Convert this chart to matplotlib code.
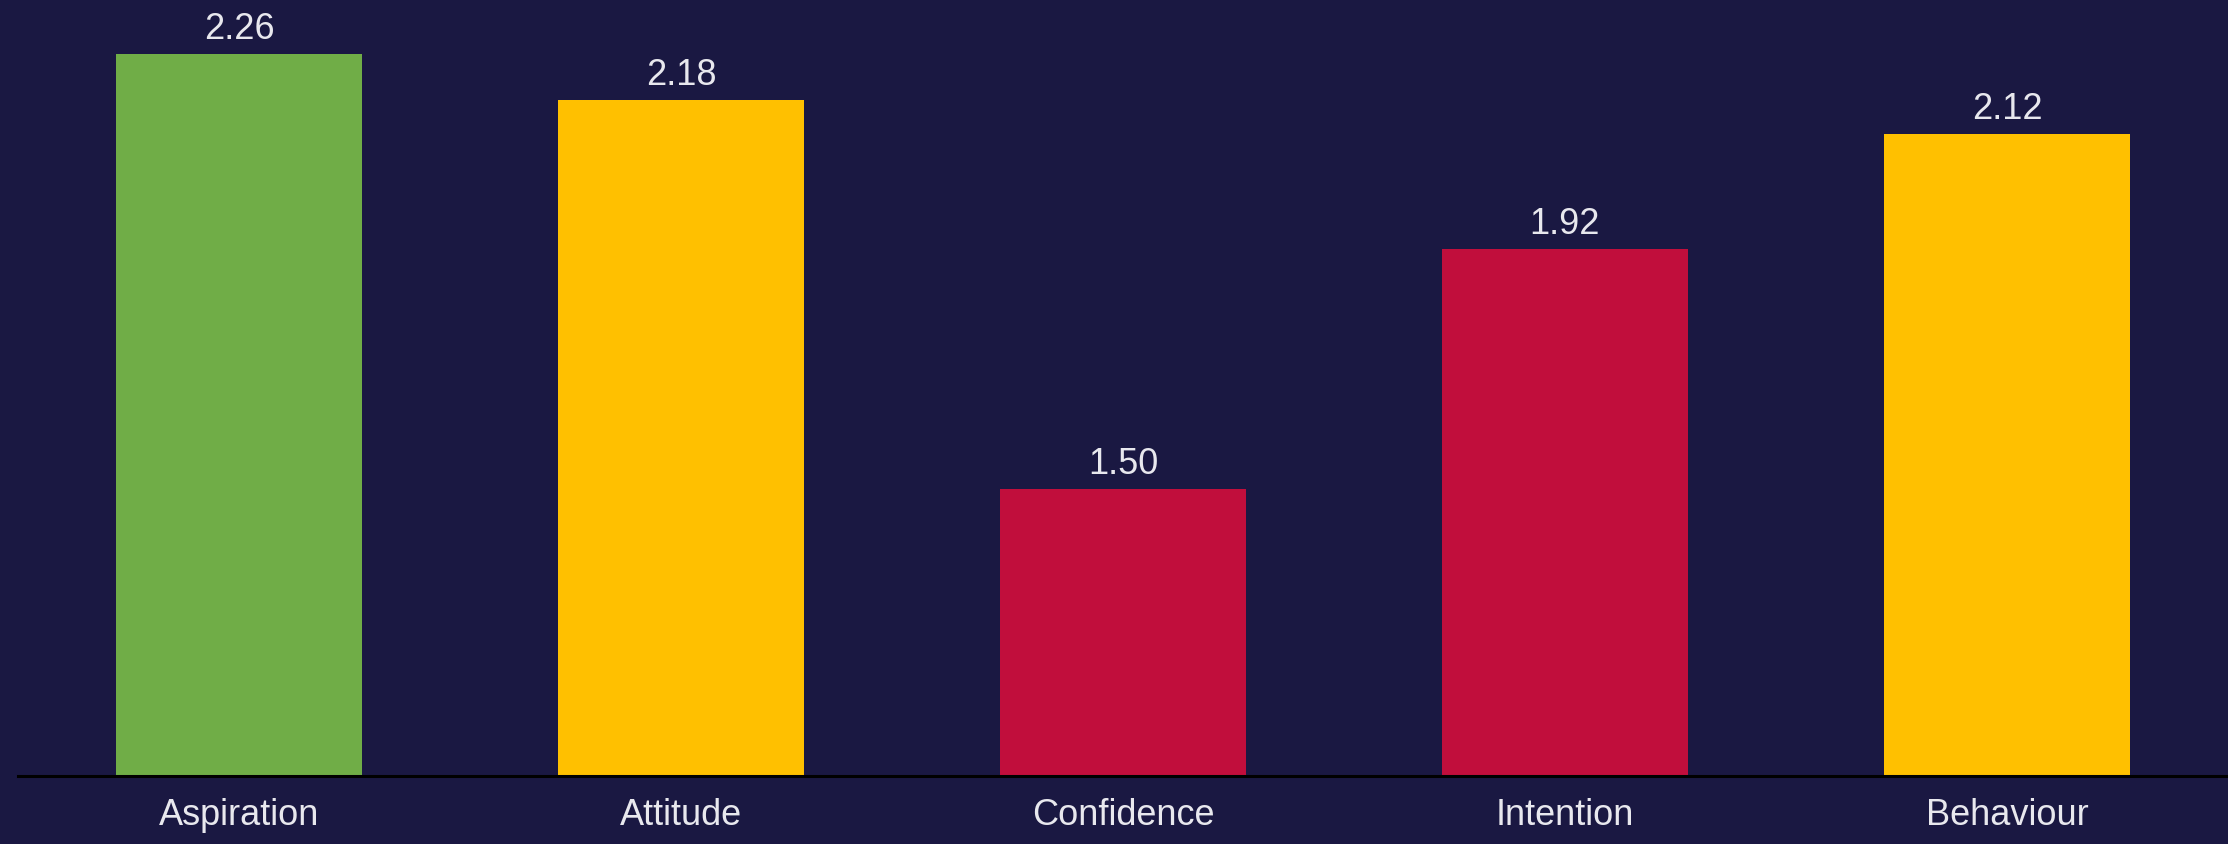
import matplotlib.pyplot as plt
import numpy as np

categories = ["Aspiration", "Attitude", "Confidence", "Intention", "Behaviour"]
scores = [2.26, 2.18, 1.50, 1.92, 2.12]
bar_colors = ["#70AD47", "#FFC000", "#C10E3C", "#C10E3C", "#FFC000"]

BG = "#1A1842"
TEXT = "#E8E8EE"

plt.rcParams["font.family"] = ["Liberation Sans", "DejaVu Sans"]

fig = plt.figure(figsize=(22.28, 8.44), dpi=100, facecolor=BG)
ax = fig.add_axes([18 / 2228, 68 / 844, 1 - 18 / 2228, 1 - 68 / 844])
ax.set_facecolor(BG)

x = np.arange(len(categories))
bars = ax.bar(x, scores, width=0.555, color=bar_colors, zorder=2)

for rect, val in zip(bars, scores):
    ax.annotate(
        f"{val:.2f}",
        (rect.get_x() + rect.get_width() / 2, rect.get_height()),
        xytext=(0, 5),
        textcoords="offset points",
        ha="center",
        va="bottom",
        color=TEXT,
        fontsize=26,
    )

ax.set_xlim(-0.5, 4.5)
ax.set_ylim(1.0, 2.354)
ax.set_xticks(x)
ax.set_xticklabels(categories, color=TEXT, fontsize=26)
ax.tick_params(axis="x", length=0, pad=16)
ax.set_yticks([])

for side in ["top", "right", "left"]:
    ax.spines[side].set_visible(False)
ax.spines["bottom"].set_color("black")
ax.spines["bottom"].set_linewidth(2.2)
ax.spines["bottom"].set_zorder(3)

fig.savefig("out.png", dpi=100, facecolor=BG)
